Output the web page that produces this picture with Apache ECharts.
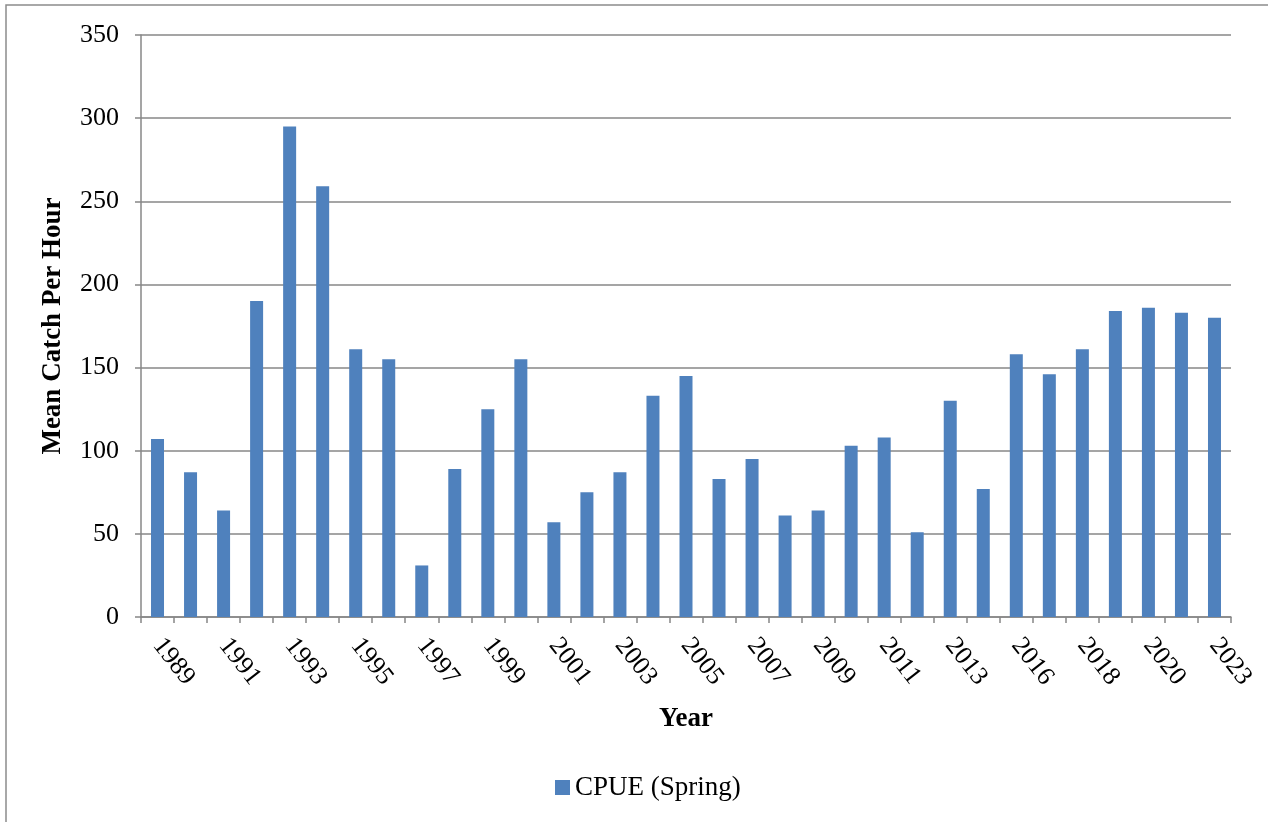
<!DOCTYPE html>
<html>
<head>
<meta charset="utf-8">
<script src="https://cdn.jsdelivr.net/npm/echarts@6/dist/echarts.min.js"></script>
<style>
  html, body { margin: 0; padding: 0; background: #fff; }
  #chart { width: 1268px; height: 822px; }
</style>
</head>
<body>
<div id="chart"></div>
<script>
// Survey years (no sampling in 2015 or 2021)
const years = ['1989','1990','1991','1992','1993','1994','1995','1996','1997','1998',
  '1999','2000','2001','2002','2003','2004','2005','2006','2007','2008',
  '2009','2010','2011','2012','2013','2014','2016','2017','2018','2019',
  '2020','2022','2023'];

// Mean catch per hour, spring survey
const cpueSpring = [107, 87, 64, 190, 295, 259, 161, 155, 31, 89,
  125, 155, 57, 75, 87, 133, 145, 83, 95, 61,
  64, 103, 108, 51, 130, 77, 158, 146, 161, 184,
  186, 183, 180];

const yTicks = { min: 0, max: 350, interval: 50 };

const serif = '"Liberation Serif", "Times New Roman", serif';
const gridGray = '#878787';

const chart = echarts.init(document.getElementById('chart'), null, { renderer: 'canvas' });

chart.setOption({
  backgroundColor: '#ffffff',
  animation: false,
  graphic: [{
    type: 'rect',
    shape: { x: 6, y: 5, width: 1300, height: 900 },
    style: { fill: 'none', stroke: '#8c8c8c', lineWidth: 1.5 },
    silent: true
  }],
  grid: { left: 141, right: 37, top: 35, bottom: 205, containLabel: false },
  legend: {
    bottom: 16,
    left: 550,
    itemWidth: 15,
    itemHeight: 15,
    itemGap: 6,
    icon: 'rect',
    textStyle: { fontFamily: serif, fontSize: 27, color: '#000' },
    data: ['CPUE (Spring)']
  },
  xAxis: {
    type: 'category',
    data: years,
    name: 'Year',
    nameLocation: 'middle',
    nameGap: 89,
    nameTextStyle: { fontFamily: serif, fontSize: 27, fontWeight: 'bold', color: '#000' },
    axisLine: { lineStyle: { color: gridGray, width: 1.5 } },
    axisTick: { show: true, interval: 0, length: 6, lineStyle: { color: gridGray, width: 1.5 } },
    axisLabel: {
      interval: 1,
      rotate: -52,
      margin: 24,
      fontFamily: serif,
      fontSize: 26,
      color: '#000'
    },
    splitLine: { show: false }
  },
  yAxis: {
    type: 'value',
    min: yTicks.min,
    max: yTicks.max,
    interval: yTicks.interval,
    name: 'Mean Catch Per Hour',
    nameLocation: 'middle',
    nameGap: 74,
    nameRotate: 90,
    nameTextStyle: { fontFamily: serif, fontSize: 27, fontWeight: 'bold', color: '#000' },
    axisLine: { show: true, lineStyle: { color: gridGray, width: 1.5 } },
    axisTick: { show: true, length: 6, lineStyle: { color: gridGray, width: 1.5 } },
    axisLabel: { fontFamily: serif, fontSize: 26, color: '#000', margin: 22 },
    splitLine: { show: true, lineStyle: { color: gridGray, width: 1.5 } }
  },
  series: [{
    name: 'CPUE (Spring)',
    type: 'bar',
    data: cpueSpring,
    barWidth: 13,
    itemStyle: { color: '#4f81bd' }
  }]
});
</script>
</body>
</html>
